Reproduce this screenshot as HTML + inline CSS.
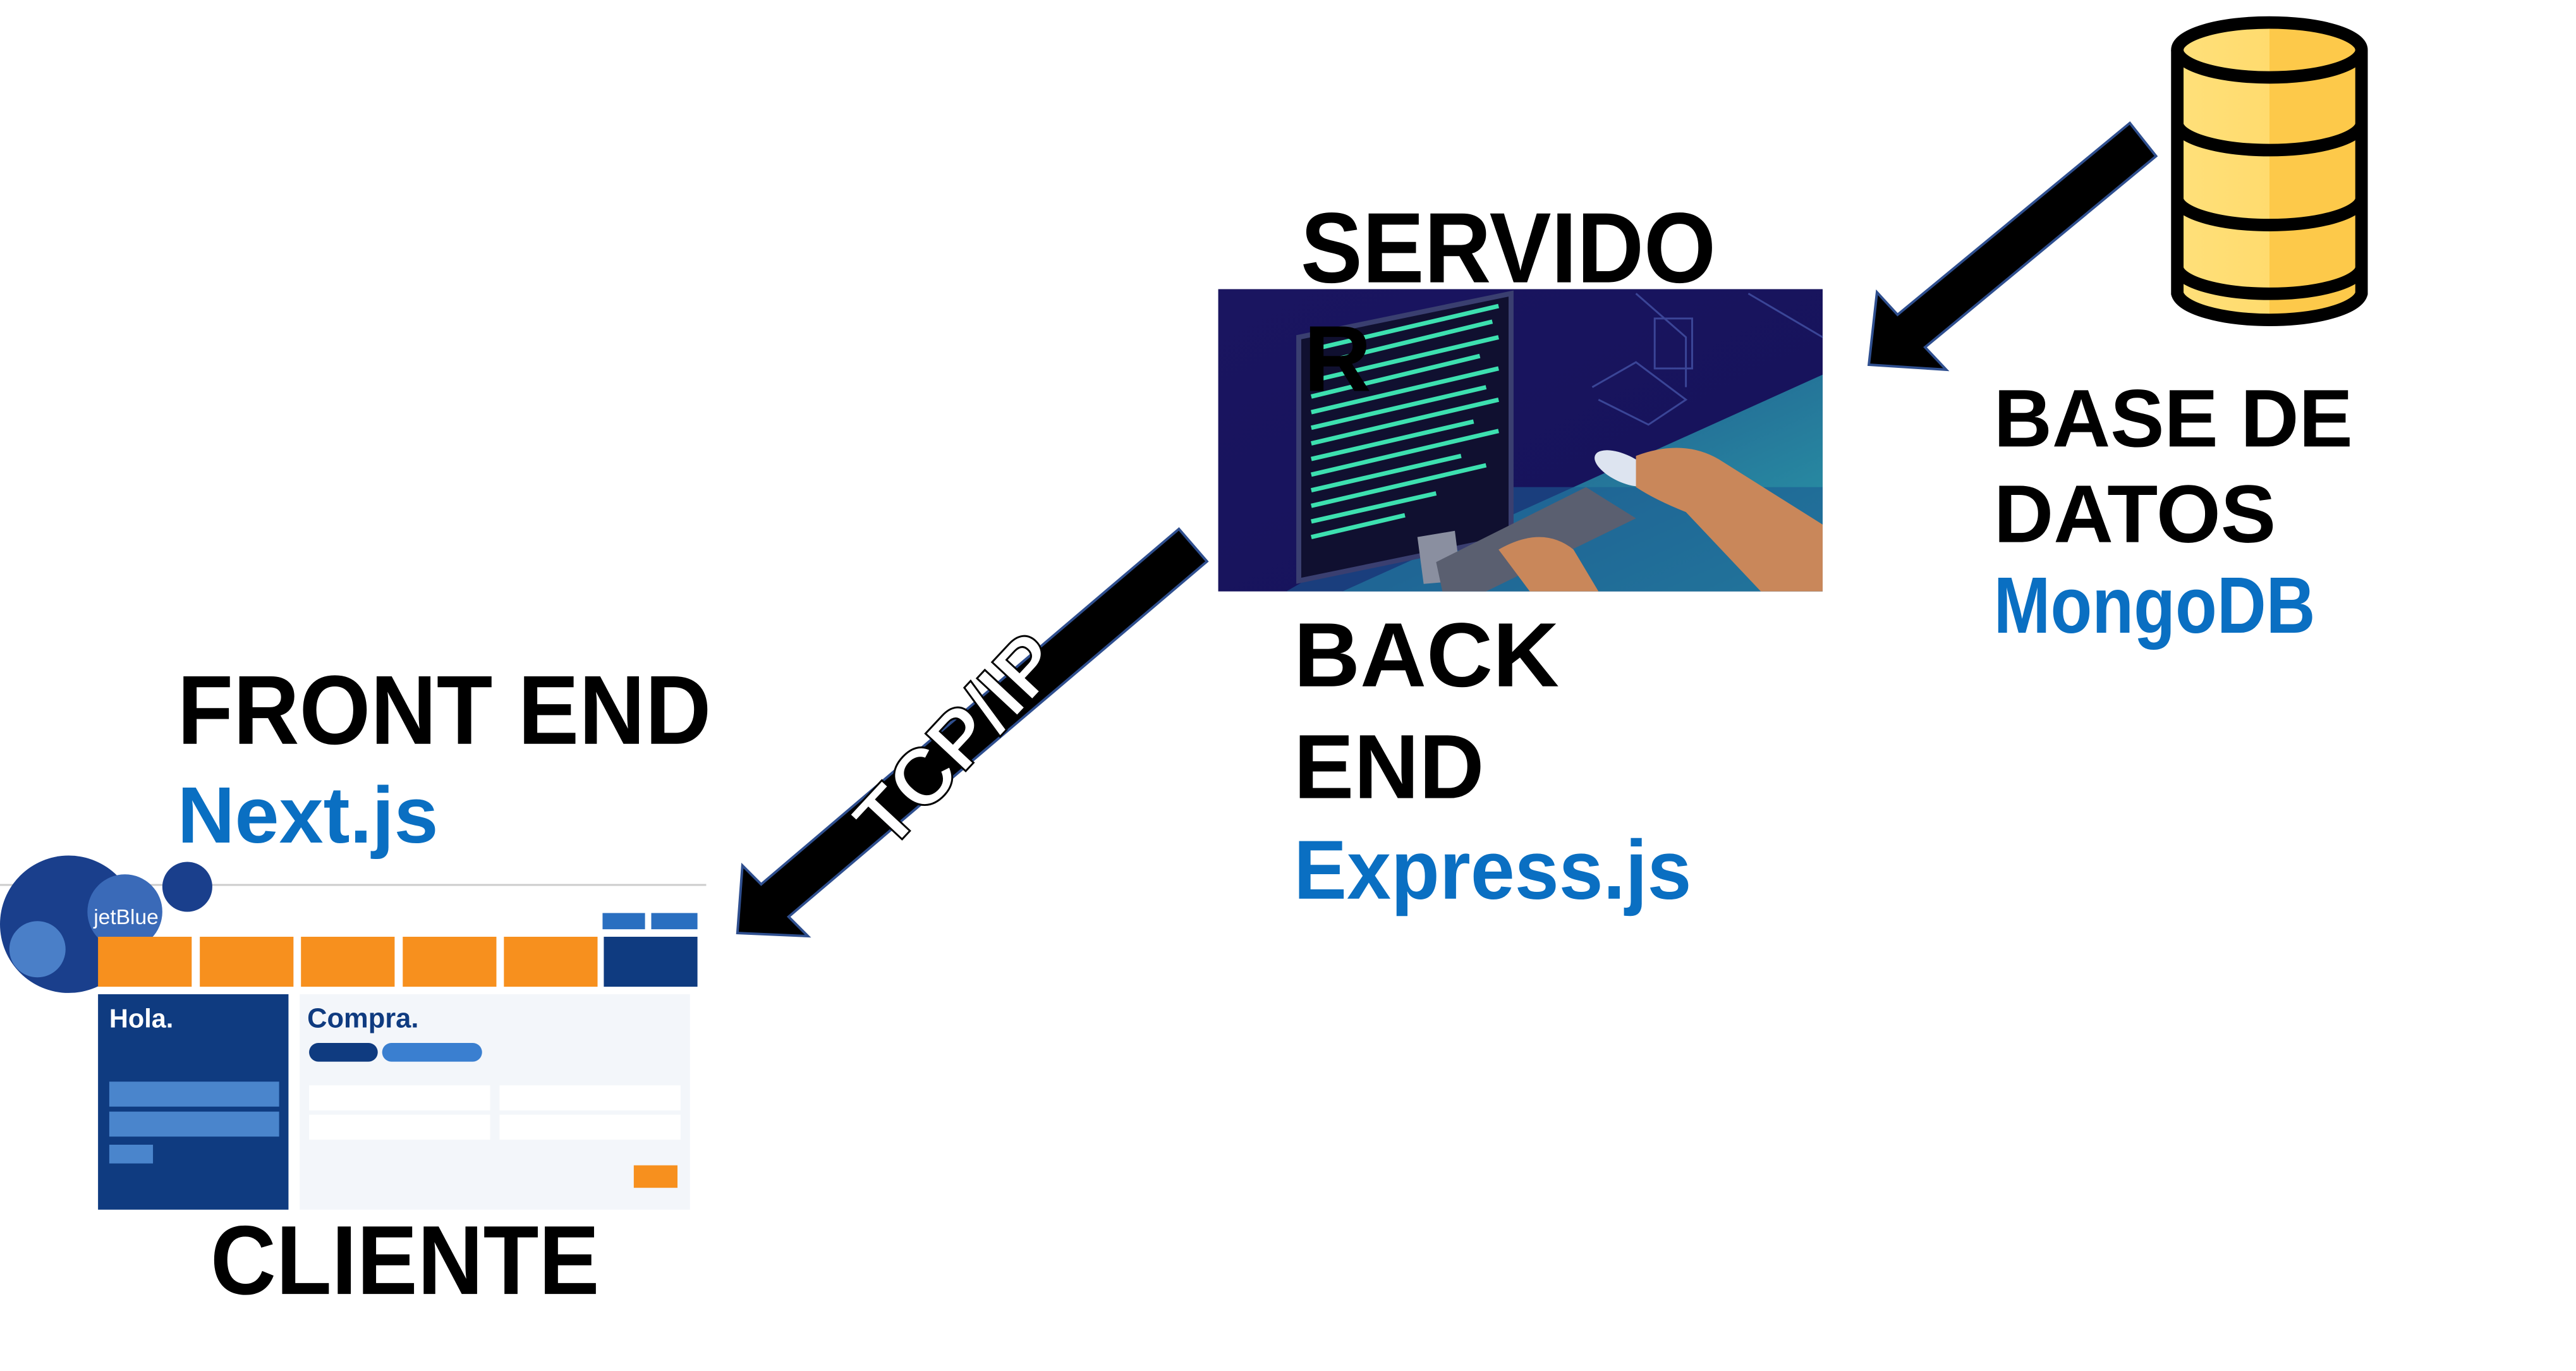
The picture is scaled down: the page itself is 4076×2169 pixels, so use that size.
<!DOCTYPE html>
<html><head><meta charset="utf-8"><style>
html,body{margin:0;padding:0;background:#fff;width:4076px;height:2169px;overflow:hidden}
svg{display:block}
.t{font-family:"Liberation Sans",Arial,sans-serif;font-weight:bold}
</style></head><body>
<svg width="4076" height="2169" viewBox="0 0 4076 2169" xmlns="http://www.w3.org/2000/svg">
<defs>
<linearGradient id="bg" x1="0" y1="0" x2="1" y2="1"><stop offset="0" stop-color="#1a1560"/><stop offset="1" stop-color="#15125a"/></linearGradient>
<linearGradient id="fl" x1="0" y1="0" x2="1" y2="1"><stop offset="0" stop-color="#1f4f8a"/><stop offset="1" stop-color="#2a9aa8"/></linearGradient>
<linearGradient id="cy" x1="0" x2="1"><stop offset="0" stop-color="#ffe07a"/><stop offset="0.5" stop-color="#ffdb6e"/><stop offset="0.5" stop-color="#fdc94a"/><stop offset="1" stop-color="#fdc94a"/></linearGradient>
</defs>
<g transform="scale(0.988)">
<!-- Server image -->
<g>
<rect x="1951" y="463" width="968" height="484" fill="url(#bg)"/>
<polygon points="2150,947 2919,600 2919,947" fill="url(#fl)"/>
<polygon points="2060,947 2350,780 2919,780 2919,947" fill="#1d5b93" opacity="0.6"/>
<polygon points="2080,540 2420,470 2420,860 2080,930" fill="#101030" stroke="#3a3f70" stroke-width="8"/>
<g stroke="#3de0b0" stroke-width="7">
<line x1="2100" y1="560" x2="2400" y2="490"/><line x1="2100" y1="585" x2="2390" y2="515"/><line x1="2100" y1="610" x2="2400" y2="540"/><line x1="2100" y1="635" x2="2370" y2="570"/><line x1="2100" y1="660" x2="2400" y2="590"/><line x1="2100" y1="685" x2="2380" y2="620"/><line x1="2100" y1="710" x2="2400" y2="640"/><line x1="2100" y1="735" x2="2360" y2="675"/><line x1="2100" y1="760" x2="2400" y2="690"/><line x1="2100" y1="785" x2="2340" y2="730"/><line x1="2100" y1="810" x2="2380" y2="745"/><line x1="2100" y1="835" x2="2300" y2="790"/><line x1="2100" y1="860" x2="2250" y2="825"/>
</g>
<polygon points="2270,860 2330,850 2340,930 2280,935" fill="#8a8fa0"/>
<polygon points="2300,900 2540,780 2620,830 2380,947 2310,947" fill="#5a5f70"/>
<ellipse cx="2600" cy="750" rx="50" ry="22" fill="#dde4f0" transform="rotate(25 2600 750)"/>
<path d="M2620 730 Q2700 700 2760 740 L2919 840 L2919 947 L2820 947 L2700 820 Q2650 800 2620 780 Z" fill="#c9875a"/>
<path d="M2400 880 Q2470 840 2520 880 L2560 947 L2450 947 Z" fill="#c9875a"/>
<g stroke="#4a5bb0" stroke-width="3" fill="none" opacity="0.7">
<polyline points="2620,470 2700,540 2700,620"/><polyline points="2800,470 2919,540"/><rect x="2650" y="510" width="60" height="80"/><polyline points="2550,620 2620,580 2700,640 2640,680 2560,640"/>
</g>
</g>

<!-- DB cylinder -->
<g stroke="#000" stroke-width="20" fill="url(#cy)">
<path d="M3487 80 L3487 470 A148 46 0 0 0 3782 470 L3782 80"/>
<ellipse cx="3634.5" cy="80" rx="147.5" ry="44"/>
<path d="M3487 200 A148 44 0 0 0 3782 200" fill="none"/>
<path d="M3487 320 A148 44 0 0 0 3782 320" fill="none"/>
<path d="M3487 430 A148 44 0 0 0 3782 430" fill="none"/>
</g>

<!-- Arrows -->
<polygon points="3411,197 3039,504 3006,468 2993,584 3117,592 3083,556 3453,250" fill="#000" stroke="#2f4f8f" stroke-width="4"/>
<polygon points="1888,847 1219,1416 1189,1386 1181,1494 1294,1499 1263,1468 1933,899" fill="#000" stroke="#2f4f8f" stroke-width="4"/>
<text class="t" x="0" y="0" font-size="128" fill="#fff" stroke="#000" stroke-width="3" text-anchor="middle" transform="translate(1565,1215) rotate(-47)">TCP/IP</text>

<!-- Labels -->
<g class="t" fill="#000">
<text x="2083" y="452" font-size="160" textLength="665" lengthAdjust="spacingAndGlyphs">SERVIDO</text>
<text x="2088" y="626" font-size="150">R</text>
<text x="3193" y="715" font-size="131" textLength="575" lengthAdjust="spacingAndGlyphs">BASE DE</text>
<text x="3193" y="868" font-size="131" textLength="452" lengthAdjust="spacingAndGlyphs">DATOS</text>
<text x="3193" y="1013" font-size="128" fill="#0a6fc2" textLength="515" lengthAdjust="spacingAndGlyphs">MongoDB</text>
<text x="2072" y="1099" font-size="146" textLength="425" lengthAdjust="spacingAndGlyphs">BACK</text>
<text x="2072" y="1278" font-size="146" textLength="305" lengthAdjust="spacingAndGlyphs">END</text>
<text x="2072" y="1439" font-size="134" fill="#0a6fc2" textLength="637" lengthAdjust="spacingAndGlyphs">Express.js</text>
<text x="284" y="1191" font-size="157" textLength="855" lengthAdjust="spacingAndGlyphs">FRONT END</text>
<text x="284" y="1349" font-size="128" fill="#0a6fc2" textLength="418" lengthAdjust="spacingAndGlyphs">Next.js</text>
<text x="337" y="2072" font-size="157" textLength="623" lengthAdjust="spacingAndGlyphs">CLIENTE</text>
</g>

<!-- jetBlue screenshot -->
<g>
<rect x="0" y="1415" width="1131" height="536" fill="#fff"/>
<line x1="0" y1="1417" x2="1131" y2="1417" stroke="#ccc" stroke-width="3"/>
<circle cx="110" cy="1480" r="110" fill="#1a3f8c"/>
<circle cx="60" cy="1520" r="45" fill="#4a7fc8"/>
<circle cx="200" cy="1460" r="60" fill="#3a6ab8"/>
<circle cx="300" cy="1420" r="40" fill="#1a3f8c"/>
<text x="150" y="1480" font-family="Liberation Sans,sans-serif" font-size="34" fill="#fff">jetBlue</text>
<rect x="965" y="1462" width="68" height="26" fill="#2a6fc0"/><rect x="1043" y="1462" width="74" height="26" fill="#2a6fc0"/>
<g fill="#f7901e">
<rect x="157" y="1500" width="150" height="80"/><rect x="320" y="1500" width="150" height="80"/><rect x="482" y="1500" width="150" height="80"/><rect x="645" y="1500" width="150" height="80"/><rect x="807" y="1500" width="150" height="80"/>
</g>
<rect x="967" y="1500" width="150" height="80" fill="#0f3b80"/>
<rect x="157" y="1592" width="305" height="345" fill="#0f3b80"/>
<text x="175" y="1645" font-family="Liberation Sans,sans-serif" font-weight="bold" font-size="42" fill="#fff">Hola.</text>
<rect x="175" y="1732" width="272" height="40" fill="#4a85cc"/><rect x="175" y="1780" width="272" height="40" fill="#4a85cc"/>
<rect x="175" y="1833" width="70" height="30" fill="#4a85cc"/>
<rect x="480" y="1592" width="625" height="345" fill="#f3f6fa"/>
<text x="492" y="1645" font-family="Liberation Sans,sans-serif" font-weight="bold" font-size="44" fill="#0f3b80">Compra.</text>
<rect x="495" y="1670" width="110" height="30" rx="15" fill="#0f3b80"/><rect x="612" y="1670" width="160" height="30" rx="15" fill="#3a7fd0"/>
<rect x="495" y="1738" width="290" height="40" fill="#fff"/><rect x="800" y="1738" width="290" height="40" fill="#fff"/>
<rect x="495" y="1785" width="290" height="40" fill="#fff"/><rect x="800" y="1785" width="290" height="40" fill="#fff"/>
<rect x="1015" y="1866" width="70" height="36" fill="#f7901e"/>
</g>
</g>
</svg>
</body></html>
